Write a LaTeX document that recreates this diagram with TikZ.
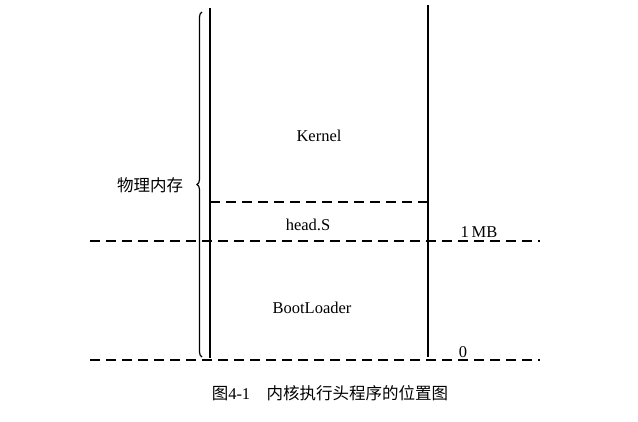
\documentclass[tikz,border=0pt]{standalone}
\usepackage{fontspec}
\setmainfont{Liberation Serif}
\newfontfamily\cjk{Noto Sans CJK SC}
\usetikzlibrary{decorations.pathreplacing}
\begin{document}
\begin{tikzpicture}[x=1pt,y=-1pt,
  solidline/.style={line width=1.5pt},
  dashline/.style={line width=1.3pt,dash pattern=on 10pt off 6pt},
  lbl/.style={font=\fontsize{16.5}{18}\selectfont, inner sep=0pt},
  cjklbl/.style={font=\cjk\fontsize{16.5}{18}\selectfont, inner sep=0pt}]
\useasboundingbox (0,0) rectangle (638,421);
% coordinates
\coordinate (lt) at (210,8);
\coordinate (lb) at (210,358);
\coordinate (rt) at (428,5);
\coordinate (rb) at (428,357);
\coordinate (s1) at (210,202);
\coordinate (s2) at (428,202);
\coordinate (m1) at (90,241);
\coordinate (m2) at (540,241);
\coordinate (z1) at (90,360);
\coordinate (z2) at (540,360);
\coordinate (bb) at (202,357);
\coordinate (bt) at (202,12);
% lines
\draw[solidline] (lt) -- (lb);
\draw[solidline] (rt) -- (rb);
\draw[dashline] (s1) -- (s2);
\draw[dashline] (m1) -- (m2);
\draw[dashline] (z1) -- (z2);
\draw[line width=1.2pt, decorate, decoration={brace, amplitude=5pt}] (bb) -- (bt);
% labels
\node[lbl] (kernel) at (319,136) {Kernel};
\node[lbl] (head) at (308,225) {head.S};
\node[lbl] (boot) at (312,308) {BootLoader};
\node[lbl] (onemb) at (479,232) {1\,MB};
\node[lbl] (zero) at (463,352) {0};
\node[cjklbl] (mem) at (150,185) {物理内存};
\node[font=\fontsize{16.5}{19}\selectfont, inner sep=0pt] (cap) at (330,393) {{\cjk 图}4-1\quad{\cjk 内核执行头程序的位置图}};
\end{tikzpicture}
\end{document}
